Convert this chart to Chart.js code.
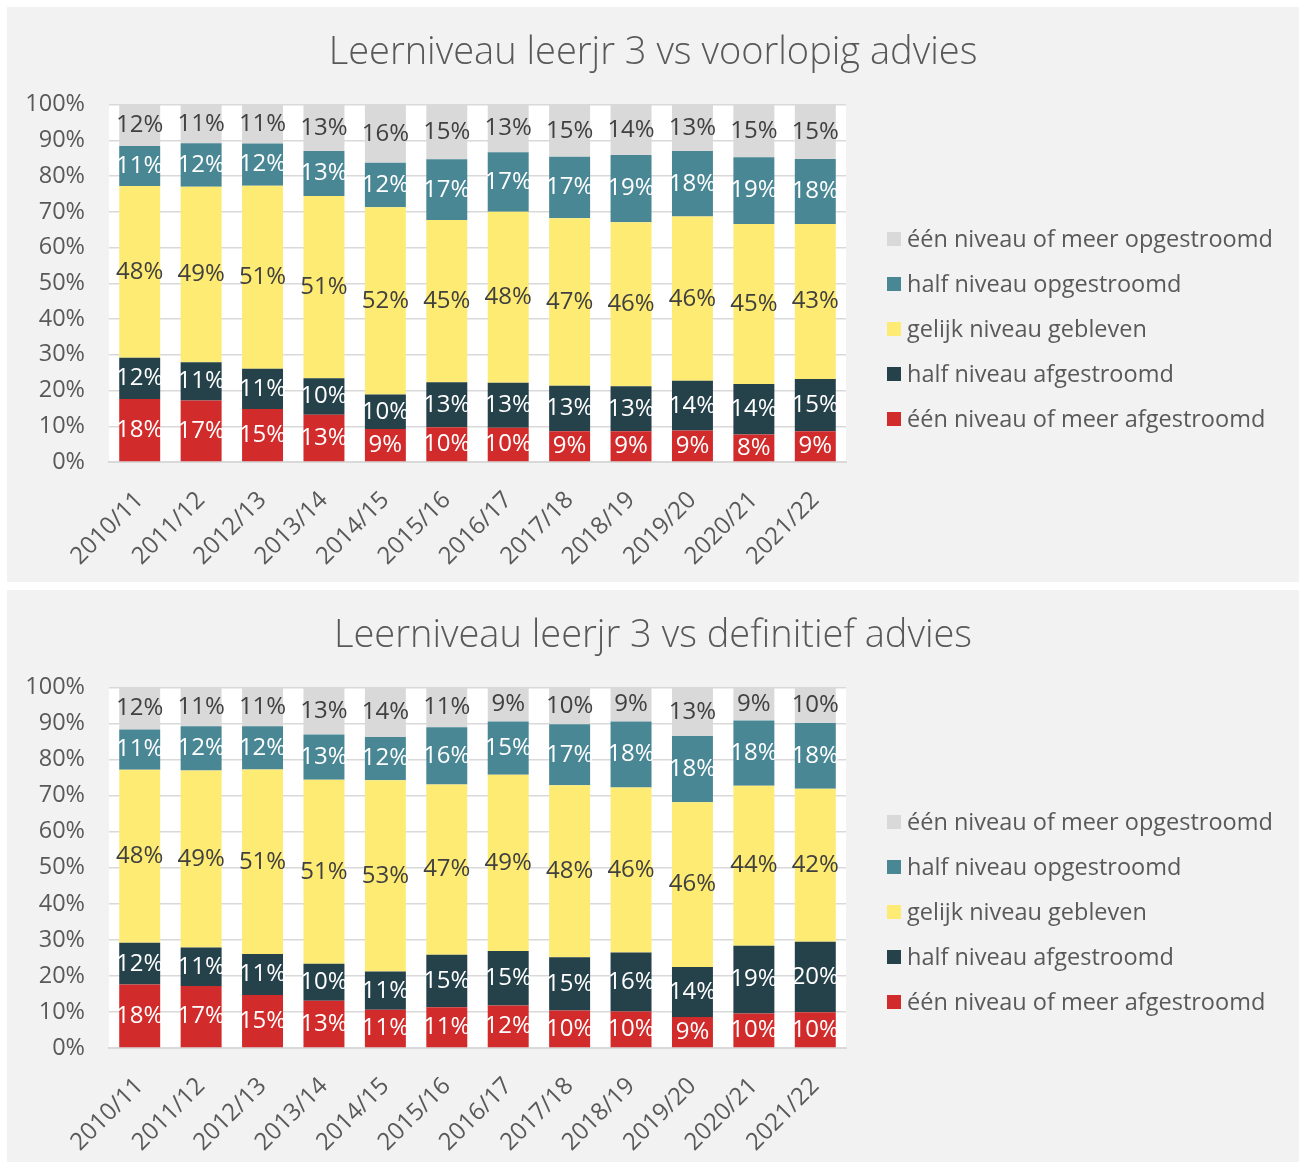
<!DOCTYPE html>
<html>
<head>
<meta charset="utf-8">
<script src="https://cdn.jsdelivr.net/npm/chart.js@4.4.1/dist/chart.umd.min.js"></script>
<style>
  body { margin: 0; background: #fff; font-family: "Open Sans", sans-serif; }
  .panel { position: absolute; left: 7px; width: 1292px; background: #f2f2f2; }
  .panel canvas { position: absolute; left: 0; top: 0; }
  .legend { position: absolute; left: 880px; top: 0; }
  .item { position: absolute; left: 0; white-space: nowrap; font-size: 23.5px; color: #595959; height: 24px; line-height: 24px; }
  .item .box { position: absolute; left: 0; top: 5px; width: 14px; height: 14px; }
  .item .txt { position: absolute; left: 20px; top: -1px; }
</style>
</head>
<body>
<div class="panel" id="p1" style="top:7px;height:575px"><canvas id="c1" width="1292" height="575"></canvas><div class="legend" id="l1"></div></div>
<div class="panel" id="p2" style="top:590px;height:572px"><canvas id="c2" width="1292" height="572"></canvas><div class="legend" id="l2"></div></div>
<script>
const schooljaren = ['2010/11', '2011/12', '2012/13', '2013/14', '2014/15', '2015/16',
  '2016/17', '2017/18', '2018/19', '2019/20', '2020/21', '2021/22'];

const reeksen = ['één niveau of meer afgestroomd', 'half niveau afgestroomd', 'gelijk niveau gebleven',
  'half niveau opgestroomd', 'één niveau of meer opgestroomd'];
const kleuren = ['#d22b2b', '#25414a', '#fdeb74', '#4a8795', '#d9d9d9'];
const labelKleuren = ['#ffffff', '#ffffff', '#404040', '#ffffff', '#404040'];

// voorlopig advies (%)
const voorlopigAfEen = [17.6, 17.2, 14.8, 13.2, 9.2, 9.7, 9.6, 8.6, 8.6, 8.8, 7.7, 8.6];
const voorlopigAfHalf = [11.6, 10.7, 11.3, 10.2, 9.7, 12.6, 12.6, 12.7, 12.6, 13.9, 14.1, 14.6];
const voorlopigGelijk = [48.0, 49.1, 51.2, 51.0, 52.4, 45.4, 47.8, 46.9, 45.9, 46.0, 44.8, 43.4];
const voorlopigOpHalf = [11.2, 12.2, 11.8, 12.6, 12.4, 17.0, 16.7, 17.2, 18.8, 18.3, 18.7, 18.2];
const voorlopigOpEen = [11.6, 10.8, 10.9, 13.0, 16.3, 15.3, 13.3, 14.6, 14.1, 13.0, 14.7, 15.2];

// definitief advies (%)
const definitiefAfEen = [17.6, 17.2, 14.7, 13.1, 10.6, 11.3, 11.8, 10.4, 10.1, 8.6, 9.6, 9.9];
const definitiefAfHalf = [11.6, 10.7, 11.4, 10.3, 10.6, 14.6, 15.1, 14.8, 16.4, 13.9, 18.8, 19.6];
const definitiefGelijk = [48.0, 49.1, 51.2, 51.0, 53.1, 47.2, 48.9, 47.7, 45.8, 45.7, 44.4, 42.4];
const definitiefOpHalf = [11.2, 12.3, 12.0, 12.6, 12.0, 15.9, 14.8, 16.9, 18.3, 18.4, 18.1, 18.3];
const definitiefOpEen = [11.6, 10.7, 10.7, 13.0, 13.7, 11.0, 9.4, 10.2, 9.4, 13.4, 9.1, 9.8];

const plotBg = {
  id: 'plotBg',
  beforeDraw(chart) {
    const { ctx, chartArea: a } = chart;
    ctx.save();
    ctx.fillStyle = '#ffffff';
    ctx.fillRect(a.left, a.top, a.right - a.left, a.bottom - a.top);
    ctx.restore();
  }
};

const barLabels = {
  id: 'barLabels',
  afterDatasetsDraw(chart) {
    const ctx = chart.ctx;
    ctx.save();
    ctx.font = '400 24px "Open Sans"';
    ctx.textAlign = 'center';
    ctx.textBaseline = 'middle';
    chart.data.datasets.forEach((ds, i) => {
      ctx.fillStyle = labelKleuren[i];
      chart.getDatasetMeta(i).data.forEach((bar, j) => {
        ctx.fillText(Math.round(ds.data[j]) + '%', bar.x, (bar.y + bar.base) / 2);
      });
    });
    ctx.restore();
  }
};

function maakLegenda(id) {
  const el = document.getElementById(id);
  const tops = [232, 277, 322, 367, 412];
  for (let k = 0; k < 5; k++) {
    const i = 4 - k;
    const d = document.createElement('div');
    d.className = 'item';
    d.style.top = (tops[k] - 12) + 'px';
    d.innerHTML = '<span class="box" style="background:' + kleuren[i] + '"></span><span class="txt">' + reeksen[i] + '</span>';
    el.appendChild(d);
  }
}

function maakGrafiek(id, titel, reeksData, xHoogte) {
  new Chart(document.getElementById(id), {
    type: 'bar',
    data: {
      labels: schooljaren,
      datasets: reeksData.map((d, i) => ({
        label: reeksen[i],
        data: d,
        backgroundColor: kleuren[i],
        borderWidth: 0,
        barPercentage: 1,
        categoryPercentage: 0.667
      }))
    },
    options: {
      responsive: false,
      animation: false,
      layout: { padding: 0 },
      plugins: {
        legend: { display: false },
        tooltip: { enabled: false },
        title: {
          display: true,
          text: titel,
          color: '#595959',
          font: { family: 'Open Sans', size: 38, weight: 300 },
          padding: { top: 23, bottom: 29 }
        }
      },
      scales: {
        x: {
          stacked: true,
          grid: { display: false },
          border: { display: true, color: '#d9d9d9', width: 2 },
          ticks: { color: '#595959', font: { family: 'Open Sans', size: 24 }, maxRotation: 45, minRotation: 45, padding: 16 },
          afterFit(s) { s.height = xHoogte; }
        },
        y: {
          stacked: true,
          min: 0,
          max: 100,
          grid: { color: '#d9d9d9', lineWidth: 1.5, drawTicks: false },
          border: { display: false },
          ticks: { stepSize: 10, color: '#595959', font: { family: 'Open Sans', size: 23.5 }, padding: 24, callback: v => v + '%' },
          afterFit(s) { s.width = 102; }
        },
        ruimte: {
          position: 'right',
          grid: { display: false, drawTicks: false },
          border: { display: false },
          ticks: { display: false },
          afterFit(s) { s.width = 453; }
        }
      }
    },
    plugins: [plotBg, barLabels]
  });
}

maakGrafiek('c1', 'Leerniveau leerjr 3 vs voorlopig advies',
  [voorlopigAfEen, voorlopigAfHalf, voorlopigGelijk, voorlopigOpHalf, voorlopigOpEen], 120);
maakGrafiek('c2', 'Leerniveau leerjr 3 vs definitief advies',
  [definitiefAfEen, definitiefAfHalf, definitiefGelijk, definitiefOpHalf, definitiefOpEen], 114);
maakLegenda('l1');
maakLegenda('l2');
</script>
</body>
</html>
